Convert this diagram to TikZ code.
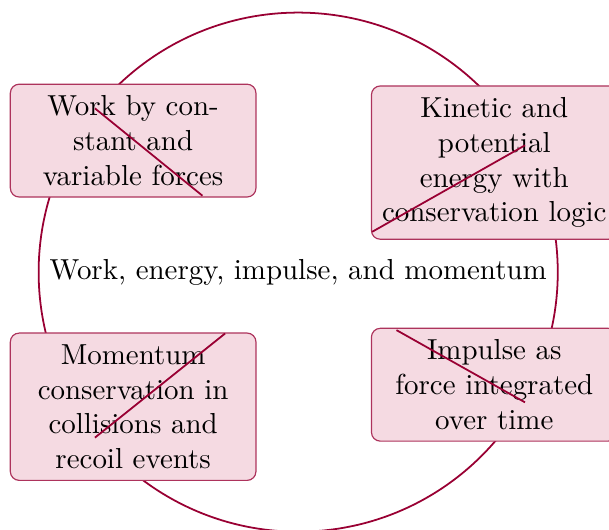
\documentclass[tikz,border=0pt]{standalone}
\usepackage{tikz}
\usetikzlibrary{positioning}
\definecolor{ringred}{HTML}{990033}
\definecolor{topicfill}{RGB}{245,218,226}

\begin{document}
\begin{tikzpicture}[>=stealth, font=\fontsize{9.8pt}{11.8pt}\selectfont]
	
	\useasboundingbox (-3.55,-3.06) rectangle (3.70,3.24);
	\tikzset{topic/.style={draw=ringred!80, thin, fill=topicfill, rounded corners=3pt, text width=2.72cm, inner xsep=2.9pt, inner ysep=3.85pt, align=center}}
	
	\draw [ringred, semithick] (0,0) circle (3.09);
	\node (hub) at (0,0) {Work, energy, impulse, and momentum};
	
	\foreach \m/\x/\y/\t in {1/-1.965/1.566/{Work by con-\\stant and\\variable forces},
		2/2.334/1.304/{Kinetic and\\potential\\energy with\\conservation logic},
		3/-1.965/-1.602/{Momentum\\conservation in\\collisions and\\recoil events},
		4/2.334/-1.340/{Impulse as\\force integrated\\over time}}
	\node [topic] (topic-\m) at (\x,\y) {\t};
	
	\foreach \m/\ax/\ay/\bx/\by in {1/-2.42/1.95/-1.14/0.91,
		2/0.88/0.48/2.70/1.51,
		3/-0.87/-0.73/-2.42/-1.97,
		4/1.17/-0.69/2.70/-1.55}
	{
	\coordinate (cut-\m-a) at (\ax,\ay);
	\coordinate (cut-\m-b) at (\bx,\by);
	\draw [ringred, semithick] (cut-\m-a) -- (cut-\m-b);
	}
	
\end{tikzpicture}
\end{document}
